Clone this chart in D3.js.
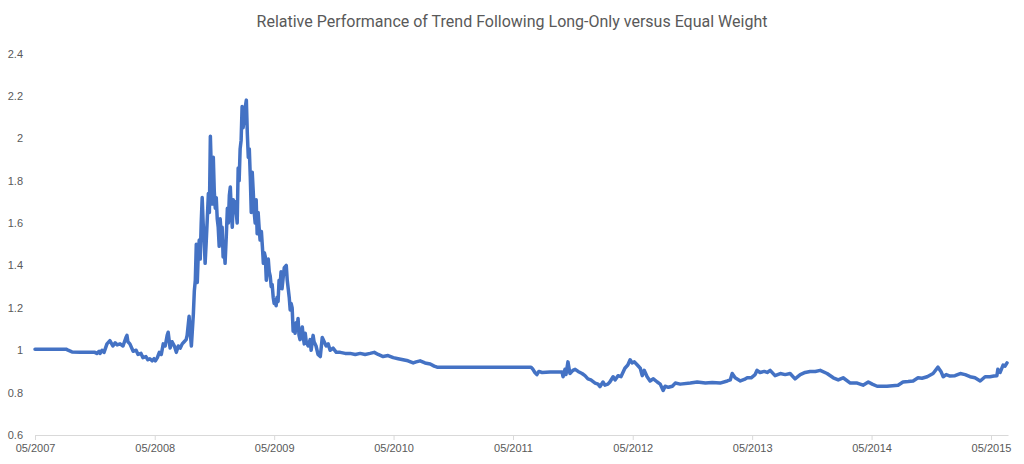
<!DOCTYPE html>
<html>
<head>
<meta charset="utf-8">
<script src="https://cdn.jsdelivr.net/npm/d3@7"></script>
<style>
  body { margin: 0; background: #fff; }
  svg { display: block; font-family: Roboto, "Open Sans", sans-serif; }
  .axis text { fill: #595959; font-size: 11px; }
  .chart-title { fill: #595959; font-size: 16px; }
</style>
</head>
<body>
<svg id="chart"></svg>
<script>
const chartTitle = 'Relative Performance of Trend Following Long-Only versus Equal Weight';

const yTicks = [0.6, 0.8, 1, 1.2, 1.4, 1.6, 1.8, 2, 2.2, 2.4];
const xTickDates = ['2007-05-01', '2008-05-01', '2009-05-01', '2010-05-01', '2011-05-01',
  '2012-05-01', '2013-05-01', '2014-05-01', '2015-05-01'];
const xDomain = ['2007-05-01', '2015-06-22'];

const dates = [
  '2007-05-01','2007-06-16','2007-08-04','2007-08-10','2007-08-22','2007-09-16','2007-10-31','2007-11-06',
  '2007-11-13','2007-11-16','2007-11-22','2007-11-28','2007-12-07','2007-12-16','2007-12-25','2008-01-01',
  '2008-01-07','2008-01-16','2008-01-25','2008-02-03','2008-02-06','2008-02-09','2008-02-15','2008-02-25',
  '2008-03-05','2008-03-11','2008-03-20','2008-03-26','2008-04-04','2008-04-10','2008-04-16','2008-04-23',
  '2008-04-29','2008-05-03','2008-05-09','2008-05-15','2008-05-21','2008-05-27','2008-06-02','2008-06-08',
  '2008-06-11','2008-06-17','2008-06-23','2008-06-30','2008-07-06','2008-07-12','2008-07-18','2008-07-24',
  '2008-07-30','2008-08-05','2008-08-08','2008-08-14','2008-08-17','2008-08-21','2008-08-27','2008-08-30',
  '2008-09-02','2008-09-05','2008-09-08','2008-09-11','2008-09-14','2008-09-17','2008-09-20','2008-09-23',
  '2008-09-26','2008-09-29','2008-10-02','2008-10-05','2008-10-08','2008-10-12','2008-10-15','2008-10-18',
  '2008-10-21','2008-10-24','2008-10-27','2008-10-30','2008-11-02','2008-11-05','2008-11-08','2008-11-11',
  '2008-11-14','2008-11-17','2008-11-20','2008-11-23','2008-11-26','2008-11-29','2008-12-02','2008-12-06',
  '2008-12-09','2008-12-12','2008-12-15','2008-12-18','2008-12-21','2008-12-24','2008-12-27','2008-12-30',
  '2009-01-02','2009-01-08','2009-01-11','2009-01-14','2009-01-17','2009-01-20','2009-01-23','2009-01-26',
  '2009-01-30','2009-02-02','2009-02-05','2009-02-08','2009-02-11','2009-02-14','2009-02-17','2009-02-20',
  '2009-02-23','2009-02-26','2009-03-01','2009-03-04','2009-03-07','2009-03-10','2009-03-13','2009-03-16',
  '2009-03-19','2009-03-23','2009-03-26','2009-03-29','2009-04-01','2009-04-04','2009-04-07','2009-04-10',
  '2009-04-13','2009-04-16','2009-04-19','2009-04-22','2009-04-25','2009-04-28','2009-05-01','2009-05-04',
  '2009-05-07','2009-05-10','2009-05-13','2009-05-16','2009-05-19','2009-05-22','2009-05-25','2009-05-29',
  '2009-06-01','2009-06-07','2009-06-10','2009-06-13','2009-06-16','2009-06-19','2009-06-22','2009-06-25',
  '2009-06-28','2009-07-01','2009-07-04','2009-07-07','2009-07-10','2009-07-13','2009-07-16','2009-07-19',
  '2009-07-26','2009-07-29','2009-08-01','2009-08-04','2009-08-07','2009-08-13','2009-08-19','2009-08-22',
  '2009-08-28','2009-08-31','2009-09-06','2009-09-12','2009-09-19','2009-09-25','2009-10-01','2009-10-07',
  '2009-10-13','2009-10-19','2009-10-28','2009-11-07','2009-11-19','2009-12-04','2009-12-19','2010-01-04',
  '2010-01-19','2010-02-03','2010-02-18','2010-03-03','2010-03-15','2010-03-30','2010-04-14','2010-04-30',
  '2010-05-15','2010-05-30','2010-06-14','2010-06-30','2010-07-09','2010-07-21','2010-08-05','2010-08-21',
  '2010-09-02','2010-09-11','2010-09-20','2011-06-25','2011-07-01','2011-07-07','2011-07-13','2011-07-19',
  '2011-07-29','2011-08-22','2011-09-28','2011-10-01','2011-10-07','2011-10-10','2011-10-16','2011-10-22',
  '2011-10-31','2011-11-07','2011-11-16','2011-11-28','2011-12-07','2011-12-16','2011-12-25','2012-01-07',
  '2012-01-16','2012-01-22','2012-01-31','2012-02-06','2012-02-15','2012-02-21','2012-03-02','2012-03-08',
  '2012-03-17','2012-03-26','2012-04-07','2012-04-16','2012-04-23','2012-04-29','2012-05-06','2012-05-15',
  '2012-05-24','2012-05-30','2012-06-05','2012-06-14','2012-06-23','2012-07-03','2012-07-15','2012-07-24',
  '2012-08-02','2012-08-08','2012-08-18','2012-08-30','2012-09-08','2012-09-23','2012-10-24','2012-11-14',
  '2012-12-09','2012-12-30','2013-01-23','2013-02-14','2013-02-23','2013-03-01','2013-03-10','2013-03-26',
  '2013-04-07','2013-04-16','2013-04-28','2013-05-10','2013-05-16','2013-05-25','2013-06-07','2013-06-16',
  '2013-06-25','2013-07-10','2013-07-26','2013-08-10','2013-08-25','2013-09-09','2013-09-25','2013-10-10',
  '2013-10-25','2013-11-10','2013-11-25','2013-12-16','2014-01-04','2014-01-19','2014-02-03','2014-02-25',
  '2014-03-18','2014-04-05','2014-04-21','2014-05-03','2014-05-18','2014-06-17','2014-07-21','2014-08-05',
  '2014-08-21','2014-09-05','2014-09-20','2014-10-02','2014-10-18','2014-11-05','2014-11-20','2014-11-29',
  '2014-12-06','2014-12-15','2014-12-27','2015-01-11','2015-01-27','2015-02-11','2015-02-26','2015-03-13',
  '2015-03-29','2015-04-13','2015-04-28','2015-05-10','2015-05-19','2015-05-22','2015-05-29','2015-06-07',
  '2015-06-13','2015-06-19'
];

const values = [
  1.005,1.005,1.005,1.0,0.992,0.99,0.99,0.985,
  0.995,0.985,1.0,0.99,1.03,1.045,1.02,1.035,
  1.025,1.03,1.02,1.06,1.07,1.04,1.03,0.995,
  1.0,0.98,0.985,0.965,0.97,0.955,0.96,0.95,
  0.96,0.95,0.965,0.99,0.98,1.03,1.02,1.07,
  1.085,1.01,1.04,1.02,0.99,1.02,1.01,1.03,
  1.04,1.05,1.07,1.16,1.09,1.02,1.17,1.28,
  1.33,1.5,1.32,1.45,1.52,1.43,1.6,1.72,
  1.6,1.52,1.41,1.5,1.6,1.74,1.65,2.01,
  1.85,1.69,1.91,1.75,1.67,1.72,1.62,1.58,
  1.49,1.62,1.55,1.58,1.44,1.48,1.41,1.55,
  1.67,1.6,1.73,1.77,1.66,1.58,1.71,1.65,
  1.7,1.6,1.86,1.8,1.95,1.99,2.15,2.05,
  2.1,2.15,2.18,2.02,1.91,1.95,1.82,1.65,
  1.84,1.75,1.65,1.6,1.71,1.55,1.65,1.58,
  1.52,1.56,1.49,1.41,1.46,1.44,1.33,1.38,
  1.43,1.37,1.35,1.3,1.31,1.25,1.22,1.24,
  1.21,1.25,1.23,1.33,1.3,1.37,1.29,1.35,
  1.39,1.4,1.33,1.29,1.25,1.19,1.22,1.2,
  1.09,1.12,1.08,1.13,1.1,1.15,1.07,1.05,
  1.11,1.06,1.03,1.08,1.04,1.02,1.05,1.0,
  1.07,1.04,1.02,0.98,0.97,1.06,1.04,1.02,
  1.03,1.0,1.01,0.99,0.99,0.985,0.985,0.98,
  0.985,0.98,0.985,0.99,0.98,0.97,0.975,0.965,
  0.96,0.955,0.95,0.94,0.945,0.95,0.94,0.935,
  0.925,0.92,0.92,0.92,0.91,0.895,0.885,0.9,
  0.895,0.897,0.897,0.875,0.91,0.885,0.945,0.89,
  0.905,0.91,0.9,0.89,0.88,0.865,0.86,0.845,
  0.84,0.828,0.85,0.835,0.84,0.85,0.875,0.86,
  0.88,0.875,0.915,0.93,0.955,0.94,0.945,0.93,
  0.915,0.88,0.905,0.875,0.855,0.865,0.85,0.84,
  0.81,0.83,0.825,0.83,0.845,0.84,0.845,0.85,
  0.845,0.848,0.845,0.855,0.86,0.89,0.87,0.855,
  0.862,0.87,0.87,0.885,0.905,0.895,0.9,0.895,
  0.905,0.88,0.89,0.885,0.89,0.865,0.885,0.895,
  0.9,0.9,0.905,0.89,0.87,0.86,0.87,0.845,
  0.845,0.835,0.85,0.84,0.83,0.83,0.835,0.85,
  0.852,0.855,0.87,0.868,0.875,0.89,0.92,0.9,
  0.875,0.885,0.878,0.88,0.89,0.885,0.875,0.87,
  0.855,0.875,0.875,0.878,0.88,0.91,0.895,0.93,
  0.925,0.94
];

const width = 1024, height = 464;
const margin = {top: 53.5, right: 16, bottom: 29, left: 35};
const parseDate = d3.timeParse('%Y-%m-%d');
const fmt = d3.timeFormat('%m/%Y');

const data = dates.map((d, i) => ({date: parseDate(d), value: values[i]}));

const svg = d3.select('#chart')
    .attr('width', width)
    .attr('height', height);

const innerW = width - margin.left - margin.right;
const innerH = height - margin.top - margin.bottom;

const xScale = d3.scaleTime()
    .domain(xDomain.map(parseDate))
    .range([0, innerW]);

const yScale = d3.scaleLinear()
    .domain([0.6, 2.4])
    .range([innerH, 0]);

const chart = svg.append('g')
    .attr('transform', `translate(${margin.left},${margin.top})`);

// title
svg.append('text')
    .attr('class', 'chart-title')
    .attr('x', width / 2)
    .attr('y', 27)
    .attr('text-anchor', 'middle')
    .text(chartTitle);

// y axis: labels only
const yAxis = d3.axisLeft(yScale)
    .tickValues(yTicks)
    .tickSize(0)
    .tickPadding(12)
    .tickFormat(d => d3.format('')(+d.toFixed(1)));

chart.append('g')
    .attr('class', 'axis y-axis')
    .call(yAxis)
    .call(g => g.select('.domain').remove());

// x axis
const xAxis = d3.axisBottom(xScale)
    .tickValues(xTickDates.map(parseDate))
    .tickSizeInner(5)
    .tickSizeOuter(0)
    .tickPadding(4)
    .tickFormat(fmt);

chart.append('g')
    .attr('class', 'axis x-axis')
    .attr('transform', `translate(0,${innerH})`)
    .call(xAxis)
    .call(g => g.select('.domain').attr('stroke', '#d9d9d9'))
    .call(g => g.selectAll('.tick line').attr('stroke', '#d9d9d9'));

const line = d3.line()
    .x(d => xScale(d.date))
    .y(d => yScale(d.value));

chart.append('path')
    .datum(data)
    .attr('class', 'chart-line')
    .attr('fill', 'none')
    .attr('stroke', '#4472C4')
    .attr('stroke-width', 3.5)
    .attr('stroke-linejoin', 'round')
    .attr('stroke-linecap', 'round')
    .attr('d', line);
</script>
</body>
</html>
